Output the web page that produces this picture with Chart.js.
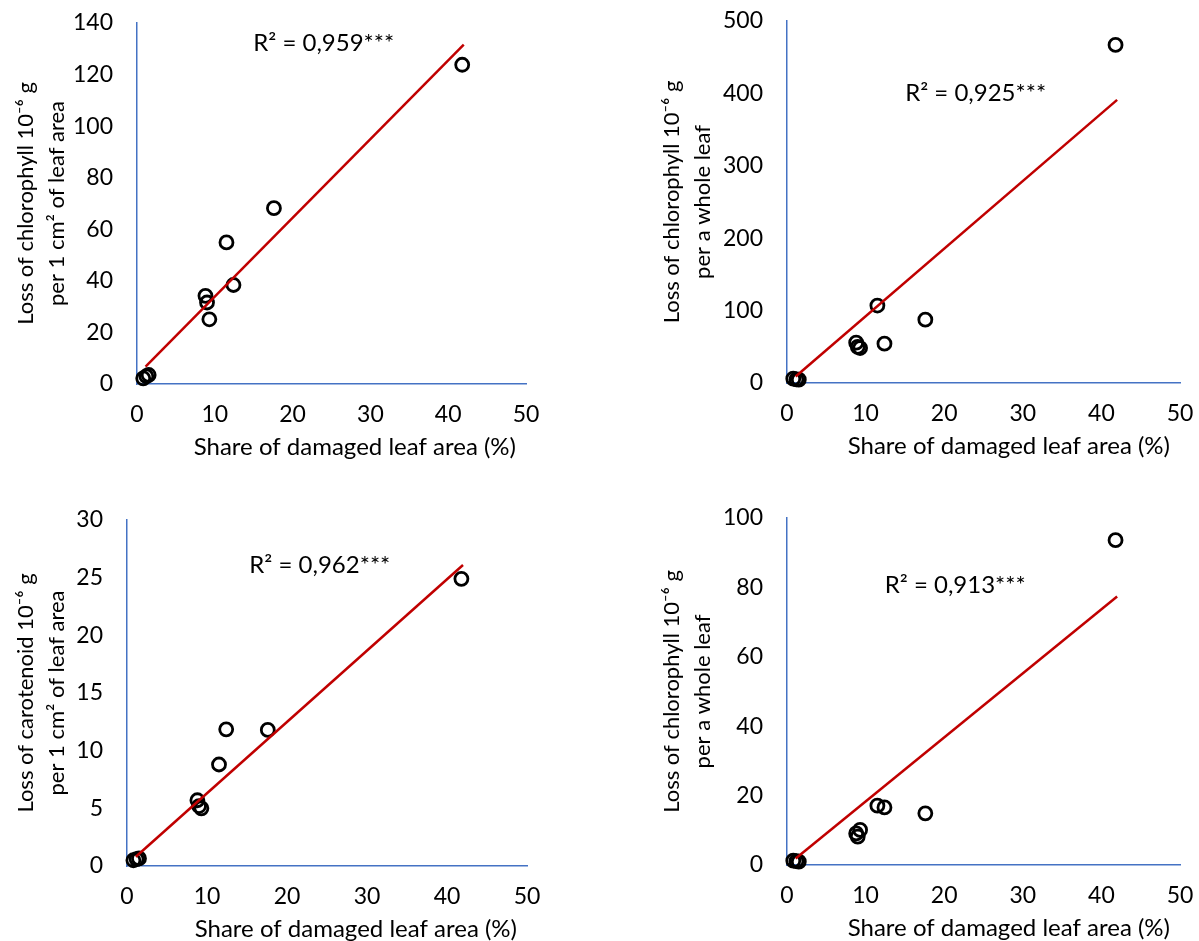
<!DOCTYPE html>
<html lang="en">
<head>
    <meta charset="UTF-8">
    <title>Leaf damage vs pigment loss</title>
    <script src="https://cdn.jsdelivr.net/npm/chart.js"></script>
    <style>
        html, body { margin: 0; padding: 0; background: #fff; }
        body { width: 1199px; height: 941px; position: relative; overflow: hidden; }
        canvas { position: absolute; }
    </style>
</head>
<body>
    <canvas id="chartTL" style="left:0;top:0;"></canvas>
    <canvas id="chartTR" style="left:600px;top:0;"></canvas>
    <canvas id="chartBL" style="left:0;top:470px;"></canvas>
    <canvas id="chartBR" style="left:600px;top:470px;"></canvas>

    <script>
        // share of damaged leaf area (%), same samples in all four panels
        const damagedShare = [0.8, 1.2, 1.5, 8.8, 9.0, 9.3, 11.5, 12.4, 17.6, 41.8];

        const chlPerCm2 = [2.2, 3.0, 3.5, 34.2, 31.6, 25.1, 54.9, 38.4, 68.2, 123.8];
        const chlPerLeaf = [6, 5, 4.6, 55.7, 50, 48.3, 107, 54.3, 87.5, 467];
        const carPerCm2 = [0.5, 0.6, 0.66, 5.7, 5.2, 5.0, 8.8, 11.85, 11.8, 24.9];
        const chlPerLeafB = [1.25, 1.1, 0.96, 9.1, 8.2, 10.1, 17.1, 16.6, 14.9, 93.6];

        // trend line end points
        const trendX = [1.1, 42.0];
        const trendTL = [6.7, 131.6];
        const trendTR = [9, 391];
        const trendBL = [0.8, 26.1];
        const trendBR = [1.9, 77.4];

        const xTicks = [0, 10, 20, 30, 40, 50];
        const xTitle = 'Share of damaged leaf area (%)';
        const r2Labels = ['R² = 0,959***', 'R² = 0,925***', 'R² = 0,962***', 'R² = 0,913***'];

        const FONT = 'Lato';
        const AXIS_BLUE = '#4472C4';

        // R² note and x axis title (Excel puts the title a bit right of centre)
        const textPlugin = {
            id: 'panelText',
            afterDatasetsDraw(chart, args, opts) {
                const {ctx, chartArea, scales: {x, y}} = chart;
                ctx.save();
                ctx.fillStyle = '#000';
                ctx.textBaseline = 'middle';
                ctx.font = '24px ' + FONT;
                ctx.textAlign = 'center';
                ctx.fillText(opts.text, x.getPixelForValue(opts.x), y.getPixelForValue(opts.y));
                ctx.textAlign = 'right';
                ctx.fillText(xTitle, chartArea.right - 10, chartArea.bottom + 63);
                ctx.restore();
            }
        };

        function noPad(s) {
            s.paddingTop = 0;
            s.paddingBottom = 0;
            s.paddingLeft = 0;
            s.paddingRight = 0;
        }

        function makeChart(id, w, h, box, yVals, trendY, yMax, yStep, yTitle, label, labelPos, titleX) {
            const canvas = document.getElementById(id);
            canvas.width = w;
            canvas.height = h;
            canvas.style.width = w + 'px';
            canvas.style.height = h + 'px';
            const pts = damagedShare.map((v, i) => ({x: v, y: yVals[i]}));
            const trend = trendX.map((v, i) => ({x: v, y: trendY[i]}));
            const titleLH = 31;
            return new Chart(canvas, {
                type: 'scatter',
                data: {
                    datasets: [{
                        type: 'line',
                        data: trend,
                        borderColor: '#C00000',
                        borderWidth: 2.5,
                        pointRadius: 0,
                        fill: false
                    }, {
                        data: pts,
                        pointRadius: 6.5,
                        pointBorderWidth: 2.8,
                        pointBorderColor: '#000',
                        pointBackgroundColor: 'rgba(0,0,0,0)',
                        clip: false
                    }]
                },
                options: {
                    responsive: false,
                    animation: false,
                    layout: { padding: { left: 0, top: box.top, right: w - box.right, bottom: 0 } },
                    plugins: {
                        legend: { display: false },
                        tooltip: { enabled: false },
                        panelText: { text: label, x: labelPos[0], y: labelPos[1] }
                    },
                    scales: {
                        x: {
                            type: 'linear',
                            min: 0, max: 50,
                            afterFit: s => { s.height = h - box.bottom; noPad(s); },
                            afterBuildTicks: s => { s.ticks = xTicks.map(v => ({value: v})); },
                            grid: { display: false, drawTicks: false },
                            border: { color: AXIS_BLUE, width: 1.5 },
                            ticks: { color: '#000', padding: 17, font: { family: FONT, size: 23 } }
                        },
                        y: {
                            type: 'linear',
                            min: 0, max: yMax,
                            afterFit: s => { s.width = box.left; noPad(s); },
                            grid: { display: false, drawTicks: false },
                            border: { color: AXIS_BLUE, width: 1.5 },
                            ticks: { stepSize: yStep, color: '#000', padding: 24, font: { family: FONT, size: 23 } },
                            title: {
                                display: true,
                                text: yTitle,
                                color: '#000',
                                font: { family: FONT, size: 22, lineHeight: titleLH / 22 },
                                padding: { top: titleX - titleLH / 2, bottom: 0 }
                            }
                        }
                    }
                },
                plugins: [textPlugin]
            });
        }

        makeChart('chartTL', 600, 470, {left: 137, right: 526, top: 23, bottom: 384},
            chlPerCm2, trendTL, 140, 20,
            ['Loss of chlorophyll 10⁻⁶ g', 'per 1 cm² of leaf area'],
            r2Labels[0], [24.0, 132.2], 26);

        makeChart('chartTR', 599, 470, {left: 187, right: 580, top: 21, bottom: 383},
            chlPerLeaf, trendTR, 500, 100,
            ['Loss of chlorophyll 10⁻⁶ g', 'per a whole leaf'],
            r2Labels[1], [24.0, 400.5], 72);

        makeChart('chartBL', 600, 471, {left: 127, right: 527, top: 50, bottom: 396},
            carPerCm2, trendBL, 30, 5,
            ['Loss of carotenoid 10⁻⁶ g', 'per 1 cm² of leaf area'],
            r2Labels[2], [24.1, 26.1], 26);

        makeChart('chartBR', 599, 471, {left: 187, right: 580, top: 48, bottom: 395},
            chlPerLeafB, trendBR, 100, 20,
            ['Loss of chlorophyll 10⁻⁶ g', 'per a whole leaf'],
            r2Labels[3], [21.4, 80.7], 72);
    </script>
</body>
</html>
